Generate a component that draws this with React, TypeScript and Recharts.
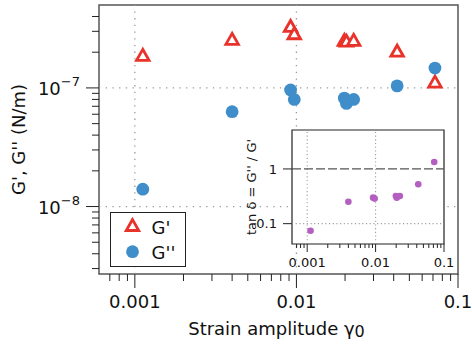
import React from "react";
import {
  ScatterChart,
  Scatter,
  XAxis,
  YAxis,
  ReferenceLine,
  ReferenceArea,
  Legend,
  Label,
} from "recharts";

// ---------- data ----------
const strain = [0.00112, 0.004, 0.0092, 0.0097, 0.0198, 0.0204, 0.0226, 0.042, 0.072];
const gPrime = [1.9e-7, 2.59e-7, 3.33e-7, 2.89e-7, 2.54e-7, 2.5e-7, 2.54e-7, 2.06e-7, 1.13e-7];
const gDoublePrime = [1.4e-8, 6.3e-8, 9.6e-8, 8.0e-8, 8.2e-8, 7.4e-8, 8.0e-8, 1.04e-7, 1.47e-7];
const tanDelta = [0.0744, 0.252, 0.299, 0.287, 0.32, 0.299, 0.32, 0.525, 1.34];

const xDomain = [0.0006, 0.1];
const yDomain = [2.7e-9, 5e-7];
const insetYDomain = [0.0425, 5.15];

const xMajorTicks = [0.001, 0.01, 0.1];
const xMajorLabels = ["0.001", "0.01", "0.1"];
const xMinorTicks = [
  0.0007, 0.0008, 0.0009,
  0.002, 0.003, 0.004, 0.005, 0.006, 0.007, 0.008, 0.009,
  0.02, 0.03, 0.04, 0.05, 0.06, 0.07, 0.08, 0.09,
];
const yMajorTicks = [1e-8, 1e-7];
const yMajorExponents = ["−8", "−7"];
const yMinorTicks = [
  3e-9, 4e-9, 5e-9, 6e-9, 7e-9, 8e-9, 9e-9,
  2e-8, 3e-8, 4e-8, 5e-8, 6e-8, 7e-8, 8e-8, 9e-8,
  2e-7, 3e-7, 4e-7,
];
const insetYMajorTicks = [0.1, 1];
const insetYLabels = ["0.1", "1"];

const gPrimeRows = strain.map((x, i) => ({ x, y: gPrime[i] }));
const gDoublePrimeRows = strain.map((x, i) => ({ x, y: gDoublePrime[i] }));
const tanRows = strain.map((x, i) => ({ x, y: tanDelta[i] }));

// ---------- styles ----------
const FONT = "DejaVu Sans, Verdana, sans-serif";
const RED = "#e8322a";
const BLUE = "#3f8dc9";
const PURPLE = "#b45ec2";
const GRID = "#999";
const FRAME = "#555";

const xTicksAll = [...xMinorTicks, ...xMajorTicks].sort((a, b) => a - b);
const yTicksAll = [...yMinorTicks, ...yMajorTicks].sort((a, b) => a - b);

// ---------- shapes ----------
const Triangle = (props: any) => {
  const { cx, cy } = props;
  if (cx == null || cy == null) return null;
  const w = 12.5;
  const h = 11;
  const d = `M${cx},${cy - h / 2} L${cx - w / 2},${cy + h / 2} L${cx + w / 2},${cy + h / 2} Z`;
  return <path d={d} fill="#fff" stroke={RED} strokeWidth={2.8} strokeLinejoin="miter" />;
};

const Dot = (props: any) => {
  const { cx, cy } = props;
  if (cx == null || cy == null) return null;
  return <circle cx={cx} cy={cy} r={6.4} fill={BLUE} />;
};

const SmallDot = (props: any) => {
  const { cx, cy } = props;
  if (cx == null || cy == null) return null;
  return <circle cx={cx} cy={cy} r={3.3} fill={PURPLE} />;
};

// ---------- ticks ----------
const MainXTick = (props: any) => {
  const { x, y, payload } = props;
  const idx = xMajorTicks.indexOf(payload.value);
  const major = idx >= 0;
  return (
    <g>
      <line x1={x} x2={x} y1={y} y2={y + (major ? 14 : 7)} stroke="#222" strokeWidth={1} />
      {major && (
        <text x={x} y={y + 33.5} textAnchor="middle" fontSize={18} fontFamily={FONT} fill="#111">
          {xMajorLabels[idx]}
        </text>
      )}
    </g>
  );
};

const MainYTick = (props: any) => {
  const { x, y, payload } = props;
  const idx = yMajorTicks.indexOf(payload.value);
  const major = idx >= 0;
  return (
    <g>
      <line x1={x - (major ? 13 : 7)} x2={x} y1={y} y2={y} stroke="#222" strokeWidth={1} />
      {major && (
        <text x={x - 19} y={y + 7} textAnchor="end" fontSize={18} fontFamily={FONT} fill="#111">
          <tspan>10</tspan>
          <tspan dy={-9} fontSize={13}>{yMajorExponents[idx]}</tspan>
        </text>
      )}
    </g>
  );
};

const InsetXTick = (props: any) => {
  const { x, y, payload } = props;
  const idx = xMajorTicks.indexOf(payload.value);
  const major = idx >= 0;
  return (
    <g>
      <line x1={x} x2={x} y1={y} y2={y + (major ? 8 : 4)} stroke="#222" strokeWidth={1} />
      {major && (
        <text x={x} y={y + 22.5} textAnchor="middle" fontSize={13} fontFamily={FONT} fill="#111">
          {xMajorLabels[idx]}
        </text>
      )}
    </g>
  );
};

const InsetYTick = (props: any) => {
  const { x, y, payload } = props;
  const idx = insetYMajorTicks.indexOf(payload.value);
  return (
    <g>
      <line x1={x - 9} x2={x} y1={y} y2={y} stroke="#222" strokeWidth={1} />
      {idx >= 0 && (
        <text x={x - 15} y={y + 4.8} textAnchor="end" fontSize={13} fontFamily={FONT} fill="#111">
          {insetYLabels[idx]}
        </text>
      )}
    </g>
  );
};

// ---------- legend ----------
const LegendBox = () => (
  <div
    style={{
      width: 76,
      height: 55,
      border: "1px solid #222",
      background: "#fff",
      boxSizing: "border-box",
    }}
  >
    <svg width={74} height={53} style={{ display: "block" }}>
      <Triangle cx={21.5} cy={12} />
      <text x={40.5} y={20.5} fontSize={18} fontFamily={FONT} fill="#111">
        G'
      </text>
      <Dot cx={21.5} cy={38.7} />
      <text x={40.5} y={45.5} fontSize={18} fontFamily={FONT} fill="#111">
        G''
      </text>
    </svg>
  </div>
);

export default function App() {
  return (
    <div style={{ position: "absolute", left: 0, top: 0, width: 472, height: 348, background: "#fff" }}>
      <ScatterChart width={472} height={348} margin={{ top: 5, right: 14, left: 0, bottom: 0 }}>
        <XAxis
          dataKey="x"
          type="number"
          scale="log"
          domain={xDomain}
          allowDataOverflow
          ticks={xTicksAll}
          interval={0}
          tick={<MainXTick />}
          tickLine={false}
          axisLine={false}
          tickSize={0}
          tickMargin={0}
          height={74}
        >
          <Label
            content={(p: any) => {
              const vb = p.viewBox || { x: 99, y: 274, width: 359 };
              const cx = vb.x + vb.width / 2 - 2;
              return (
                <text x={cx} y={vb.y + 61} textAnchor="middle" fontSize={18} fontFamily={FONT} fill="#111">
                  <tspan>Strain amplitude γ</tspan>
                  <tspan dy={2} fontSize={16}>0</tspan>
                </text>
              );
            }}
          />
        </XAxis>
        <YAxis
          dataKey="y"
          type="number"
          scale="log"
          domain={yDomain}
          allowDataOverflow
          ticks={yTicksAll}
          interval={0}
          tick={<MainYTick />}
          tickLine={false}
          axisLine={false}
          tickSize={0}
          tickMargin={0}
          width={99}
        >
          <Label
            content={(p: any) => {
              const vb = p.viewBox || { x: 0, y: 5, height: 269 };
              const cx = vb.x + 25;
              const cy = vb.y + vb.height / 2;
              return (
                <text
                  x={cx}
                  y={cy}
                  transform={`rotate(-90, ${cx}, ${cy})`}
                  textAnchor="middle"
                  fontSize={18}
                  fontFamily={FONT}
                  fill="#111"
                >
                  G', G'' (N/m)
                </text>
              );
            }}
          />
        </YAxis>
        <ReferenceLine x={0.001} stroke={GRID} strokeWidth={1.3} strokeDasharray="1.3 5.4" />
        <ReferenceLine x={0.01} stroke={GRID} strokeWidth={1.3} strokeDasharray="1.3 5.4" />
        <ReferenceLine y={1e-7} stroke={GRID} strokeWidth={1.3} strokeDasharray="1.3 5.4" />
        <ReferenceLine y={1e-8} stroke={GRID} strokeWidth={1.3} strokeDasharray="1.3 5.4" />
        <ReferenceArea
          x1={xDomain[0]}
          x2={xDomain[1]}
          y1={yDomain[0]}
          y2={yDomain[1]}
          ifOverflow="visible"
          fill="none"
          fillOpacity={0}
          stroke={FRAME}
          strokeWidth={1.5}
        />
        <Scatter name="G'" data={gPrimeRows} shape={<Triangle />} isAnimationActive={false} />
        <Scatter name="G''" data={gDoublePrimeRows} shape={<Dot />} isAnimationActive={false} />
        <Legend
          layout="vertical"
          align="center"
          verticalAlign="middle"
          wrapperStyle={{ left: 110, top: 212, width: 76, height: 55 }}
          content={() => <LegendBox />}
        />
      </ScatterChart>

      <div style={{ position: "absolute", left: 236, top: 125 }}>
        <ScatterChart width={222} height={150} margin={{ top: 5, right: 14, left: 0, bottom: 0 }}>
          <XAxis
            dataKey="x"
            type="number"
            scale="log"
            domain={xDomain}
            allowDataOverflow
            ticks={xTicksAll}
            interval={0}
            tick={<InsetXTick />}
            tickLine={false}
            axisLine={false}
            tickSize={0}
            tickMargin={0}
            height={31}
          />
          <YAxis
            dataKey="y"
            type="number"
            scale="log"
            domain={insetYDomain}
            allowDataOverflow
            ticks={insetYMajorTicks}
            interval={0}
            tick={<InsetYTick />}
            tickLine={false}
            axisLine={false}
            tickSize={0}
            tickMargin={0}
            width={56}
          >
            <Label
              content={(p: any) => {
                const vb = p.viewBox || { x: 0, y: 5, height: 114 };
                const cx = vb.x + 20;
                const cy = vb.y + vb.height / 2;
                return (
                  <text
                    x={cx}
                    y={cy}
                    transform={`rotate(-90, ${cx}, ${cy})`}
                    textAnchor="middle"
                    fontSize={13}
                    fontFamily={FONT}
                    fill="#111"
                  >
                    tan δ = G'' / G'
                  </text>
                );
              }}
            />
          </YAxis>
          <ReferenceArea
            x1={xDomain[0]}
            x2={xDomain[1]}
            y1={insetYDomain[0]}
            y2={insetYDomain[1]}
            ifOverflow="visible"
            fill="#fff"
            fillOpacity={1}
            stroke="#222"
            strokeWidth={1.2}
          />
          <ReferenceLine x={0.001} stroke={GRID} strokeWidth={1.1} strokeDasharray="1.1 2.6" />
          <ReferenceLine x={0.01} stroke={GRID} strokeWidth={1.1} strokeDasharray="1.1 2.6" />
          <ReferenceLine y={0.1} stroke={GRID} strokeWidth={1.1} strokeDasharray="1.1 2.6" />
          <ReferenceLine y={1} stroke="#555" strokeWidth={1.3} strokeDasharray="9 3" />
          <Scatter name="tan δ" data={tanRows} shape={<SmallDot />} isAnimationActive={false} />
        </ScatterChart>
      </div>
    </div>
  );
}
